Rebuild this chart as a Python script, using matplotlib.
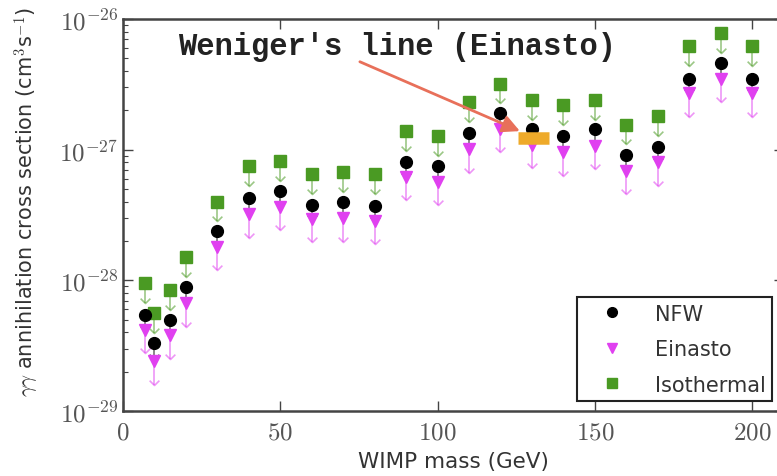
import numpy as np
import matplotlib
matplotlib.use("Agg")
import matplotlib.pyplot as plt
from matplotlib.lines import Line2D
from matplotlib.ticker import FuncFormatter, LogLocator, NullLocator, MultipleLocator

plt.rcParams['mathtext.fontset'] = 'cm'

# WIMP masses (GeV) and the 95% upper limits on <sigma v>_gamma gamma (cm^3 s^-1)
mass = [7, 10, 15, 20, 30, 40, 50, 60, 70, 80, 90, 100,
        110, 120, 130, 140, 150, 160, 170, 180, 190, 200]
nfw = [5.4e-29, 3.3e-29, 5.0e-29, 8.9e-29, 2.4e-28, 4.3e-28, 4.8e-28, 3.8e-28,
       4.0e-28, 3.7e-28, 8.0e-28, 7.5e-28, 1.34e-27, 1.91e-27, 1.44e-27, 1.27e-27,
       1.44e-27, 9.1e-28, 1.05e-27, 3.5e-27, 4.6e-27, 3.5e-27]
einasto = [4.2e-29, 2.4e-29, 3.8e-29, 6.7e-29, 1.8e-28, 3.2e-28, 3.65e-28, 2.95e-28,
           3.0e-28, 2.85e-28, 6.2e-28, 5.7e-28, 1.01e-27, 1.44e-27, 1.09e-27, 9.6e-28,
           1.07e-27, 6.9e-28, 8.0e-28, 2.7e-27, 3.5e-27, 2.7e-27]
isothermal = [9.5e-29, 5.6e-29, 8.4e-29, 1.5e-28, 4.0e-28, 7.5e-28, 8.2e-28, 6.5e-28,
              6.7e-28, 6.5e-28, 1.39e-27, 1.27e-27, 2.3e-27, 3.2e-27, 2.4e-27, 2.2e-27,
              2.4e-27, 1.55e-27, 1.8e-27, 6.2e-27, 7.8e-27, 6.2e-27]

# Weniger's 130 GeV line (Einasto profile)
weniger_mass = [125.5, 135.5]
weniger_sv = [1.22e-27, 1.22e-27]

c_nfw = 'black'
c_ein = '#e040f0'
c_iso = '#4a9a23'

fig = plt.figure(figsize=(7.77, 4.77), dpi=100)
ax = fig.add_axes([123/777, 65/477, 660.5/777, 392/477])

chevron = [(-1, 1), (0, 0), (1, 1)]


def draw_limits(x, y, color, marker, ms, drop):
    y = np.asarray(y)
    low = y * 10**(-drop)
    ax.vlines(x, low, y, color=color, lw=1.2, alpha=0.55)
    ax.plot(x, low, ls='none', marker=chevron, ms=7, mfc='none',
            mec=color, mew=1.2, alpha=0.55)
    ax.plot(x, y, ls='none', marker=marker, ms=ms, color=color)


draw_limits(mass, isothermal, c_iso, 's', 8, 0.15)
draw_limits(mass, nfw, c_nfw, 'o', 8.5, 0.12)
draw_limits(mass, einasto, c_ein, 'v', 8.5, 0.18)

ax.plot(weniger_mass, weniger_sv, color='#eeaa2a', lw=9, solid_capstyle='butt')

ax.annotate('', xy=(127, 1.36e-27), xytext=(74.5, 4.8e-27),
            arrowprops=dict(arrowstyle='-|>', color='#e8705a', lw=2,
                            mutation_scale=26))
ax.text(17.5, 6.2e-27, "Weniger's line (Einasto)", family='Liberation Mono',
        weight='bold', fontsize=22, color='#222222', va='center')

ax.set_yscale('log')
ax.set_xlim(0, 210)
ax.set_ylim(1e-29, 1e-26)

ax.xaxis.set_major_locator(MultipleLocator(50))
ax.xaxis.set_minor_locator(NullLocator())
ax.yaxis.set_major_locator(LogLocator(base=10))
ax.yaxis.set_minor_locator(LogLocator(base=10, subs=np.arange(2, 10)))
ax.yaxis.set_minor_formatter(FuncFormatter(lambda v, p: ''))
ax.xaxis.set_major_formatter(FuncFormatter(lambda v, p: r'$%d$' % v))
ax.yaxis.set_major_formatter(FuncFormatter(
    lambda v, p: r'$10^{%d}$' % int(round(np.log10(v)))))

ax.tick_params(which='both', direction='in', top=True, right=True,
               labelsize=18, labelcolor='#555555', color='#444444')
ax.tick_params(which='major', length=7, width=1)
ax.tick_params(which='minor', length=3.5, width=0.8)
ax.tick_params(axis='x', which='major', pad=6)
for s in ax.spines.values():
    s.set_linewidth(1.8)
    s.set_color('#444444')

ax.set_xlabel('WIMP mass (GeV)', fontsize=15.5, color='#333333', labelpad=5.5)
ax.set_ylabel(r'$\gamma\gamma$ annihilation cross section (cm$^3$s$^{-1}$)',
              fontsize=15, color='#333333')
ax.yaxis.set_label_coords(-0.123, 0.536)

handles = [
    Line2D([], [], ls='none', marker='o', ms=7, color=c_nfw, label='NFW'),
    Line2D([], [], ls='none', marker='v', ms=7, color=c_ein, label='Einasto'),
    Line2D([], [], ls='none', marker='s', ms=7, color=c_iso, label='Isothermal'),
]
leg = ax.legend(handles=handles, loc='lower right',
                bbox_to_anchor=(0.9826, 0.0255), borderaxespad=0,
                fontsize=15, fancybox=False, framealpha=1, numpoints=1,
                handlelength=2.77, handletextpad=0.68, labelspacing=0.75,
                borderpad=0.3)
leg.get_frame().set_edgecolor('#222222')
leg.get_frame().set_linewidth(1.5)
for t in leg.get_texts():
    t.set_color('#333333')

fig.savefig('out.png', dpi=100)
